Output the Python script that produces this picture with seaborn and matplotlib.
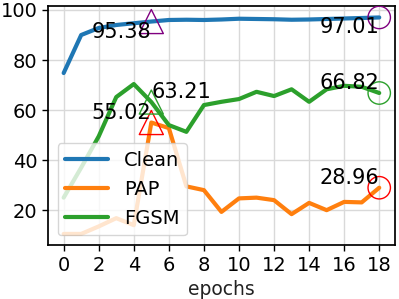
import matplotlib
matplotlib.use("Agg")
import matplotlib.pyplot as plt
import numpy as np
import pandas as pd
import seaborn as sns

epochs = list(range(19))
clean = [74.8, 90.0, 92.8, 94.0, 94.7, 95.38, 96.0, 96.1, 96.0, 96.2, 96.5,
         96.4, 96.3, 96.1, 96.2, 96.4, 96.6, 96.8, 97.01]
pap = [10.5, 10.5, 13.5, 16.8, 14.0, 55.02, 52.8, 29.5, 28.0, 19.3, 24.7,
       25.0, 24.0, 18.4, 22.9, 20.0, 23.3, 23.1, 28.96]
fgsm = [25.0, 37.0, 49.5, 65.2, 70.4, 63.21, 54.0, 51.3, 62.0, 63.3, 64.4,
        67.3, 65.6, 68.3, 63.3, 68.3, 69.7, 69.3, 66.82]
series_names = ["Clean", "PAP", "FGSM"]

# highlighted points
peak_epoch = 5
last_epoch = 18
mark_colors = ["purple", "red", "tab:green"]

df = pd.DataFrame({
    "epochs": epochs * 3,
    "acc": clean + pap + fgsm,
    "model": sum([[n] * len(epochs) for n in series_names], []),
})

sns.set_theme(style="ticks", rc={"axes.grid": True, "grid.color": "#d9d9d9",
                                 "axes.edgecolor": "black", "text.color": "black",
                                 "xtick.color": "black", "ytick.color": "black",
                                 "axes.labelcolor": "#222222"})
plt.rcParams["font.family"] = ["DejaVu Sans"]

fig, ax = plt.subplots(figsize=(3.99, 2.99), dpi=100)
sns.lineplot(data=df, x="epochs", y="acc", hue="model",
             palette=["tab:blue", "tab:orange", "tab:green"],
             linewidth=3, ax=ax)

vals = {"Clean": clean, "PAP": pap, "FGSM": fgsm}
align = {  # (peak ha, peak va, last va)
    "Clean": ("right", "top", "top"),
    "PAP": ("right", "bottom", "bottom"),
    "FGSM": ("left", "bottom", "bottom"),
}
for name, col in zip(series_names, mark_colors):
    v = vals[name]
    ax.scatter([peak_epoch], [v[peak_epoch]], marker="^", s=300,
               facecolors="none", edgecolors=col, linewidths=1.0, zorder=5)
    ax.scatter([last_epoch], [v[last_epoch]], marker="o", s=260,
               facecolors="none", edgecolors=col, linewidths=1.0, zorder=5)
    ha, va, va2 = align[name]
    ax.text(peak_epoch, v[peak_epoch], f"{v[peak_epoch]:.2f}", ha=ha, va=va,
            fontsize=15, zorder=6)
    ax.text(last_epoch, v[last_epoch], f"{v[last_epoch]:.2f}", ha="right", va=va2,
            fontsize=15, zorder=6)

ax.set_xticks(range(0, 19, 2))
ax.set_yticks(range(20, 101, 20))
ax.set_xlim(-0.9, 18.9)
ax.set_ylim(6, 101.6)
ax.tick_params(labelsize=14, length=4, width=1)
ax.set_xlabel("epochs", fontsize=13.5)
ax.set_ylabel("")
for s in ax.spines.values():
    s.set_visible(True)
    s.set_color("black")
ax.legend(loc="lower left", fontsize=14, handlelength=2.2, framealpha=0.8)
for line in ax.get_legend().get_lines():
    line.set_linewidth(3)

fig.subplots_adjust(left=0.12, right=0.99, top=0.98, bottom=0.18)
fig.savefig("out.png", dpi=100)
